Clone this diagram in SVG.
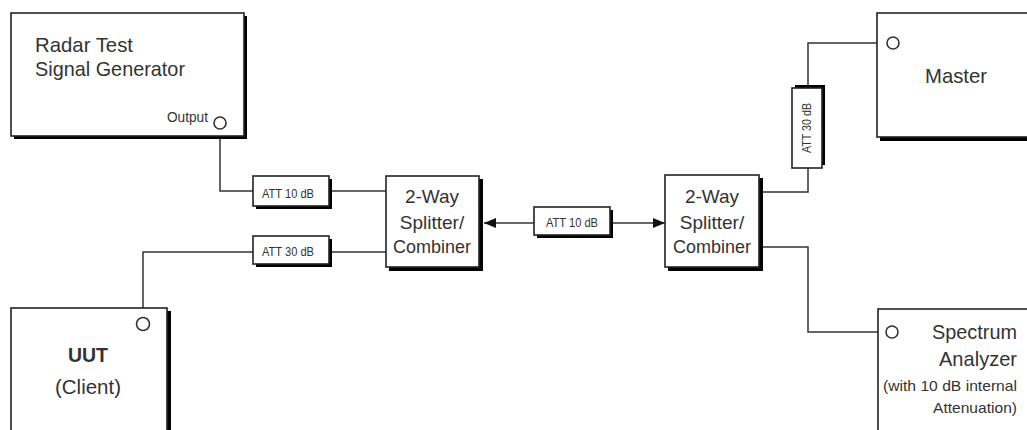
<svg xmlns="http://www.w3.org/2000/svg" width="1027" height="430" viewBox="0 0 1027 430">
<style>
.box{fill:#fff;stroke:#222;stroke-width:1.6}
.sh{fill:#000}
.wire{fill:none;stroke:#333;stroke-width:1.5}
.port{fill:#fff;stroke:#333;stroke-width:1.6}
text{font-family:"Liberation Sans",Arial,sans-serif;fill:#333}
.big{font-size:21px}
.mid{font-size:19px}
.sm{font-size:13px}
.xs{font-size:15px}
</style>
<defs>
<marker id="ah" viewBox="0 0 12 10" refX="12" refY="5" markerWidth="12" markerHeight="10" markerUnits="userSpaceOnUse" orient="auto-start-reverse">
<path d="M0,0 L12,5 L0,10 Z" fill="#111"/>
</marker>
</defs>
<rect width="1027" height="430" fill="#fff"/>
<g id="connectors">
<path class="wire" d="M220,129 V191 H253"/>
<path class="wire" d="M332,191 H386"/>
<path class="wire" d="M253,252 H143 V318"/>
<path class="wire" d="M332,252 H386"/>
<path class="wire" d="M484,223 H534" marker-start="url(#ah)"/>
<path class="wire" d="M613,223 H665" marker-end="url(#ah)"/>
<path class="wire" d="M886,43 H808 V88"/>
<path class="wire" d="M808,168 V192 H762"/>
<path class="wire" d="M762,247 H808 V332 H886"/>
</g>
<g id="radar">
<rect class="sh" x="14" y="16" width="233" height="123"/>
<rect class="box" x="11" y="13" width="233" height="123"/>
<text class="big" x="35" y="52" textLength="98" lengthAdjust="spacingAndGlyphs">Radar Test</text>
<text class="big" x="35" y="76" textLength="150" lengthAdjust="spacingAndGlyphs">Signal Generator</text>
<text class="xs" x="208" y="122" text-anchor="end" textLength="41" lengthAdjust="spacingAndGlyphs">Output</text>
<circle class="port" cx="220" cy="123" r="6"/>
</g>
<g id="att1">
<rect class="sh" x="256" y="179" width="76" height="30"/>
<rect class="box" x="253" y="176" width="76" height="30"/>
<text class="sm" x="262" y="198" textLength="52" lengthAdjust="spacingAndGlyphs">ATT 10 dB</text>
</g>
<g id="att2">
<rect class="sh" x="256" y="239" width="76" height="28"/>
<rect class="box" x="253" y="236" width="76" height="28"/>
<text class="sm" x="262" y="256" textLength="52" lengthAdjust="spacingAndGlyphs">ATT 30 dB</text>
</g>
<g id="splitter1">
<rect class="sh" x="389" y="179" width="94" height="92"/>
<rect class="box" x="386" y="176" width="93" height="91"/>
<g class="mid" text-anchor="middle">
<text x="432" y="203">2-Way</text>
<text x="432" y="229">Splitter/</text>
<text x="432" y="253" textLength="78" lengthAdjust="spacingAndGlyphs">Combiner</text>
</g>
</g>
<g id="att3">
<rect class="sh" x="537" y="210" width="76" height="28"/>
<rect class="box" x="534" y="207" width="76" height="28"/>
<text class="sm" x="572" y="227" text-anchor="middle" textLength="52" lengthAdjust="spacingAndGlyphs">ATT 10 dB</text>
</g>
<g id="splitter2">
<rect class="sh" x="668" y="178" width="95" height="93"/>
<rect class="box" x="665" y="175" width="94" height="92"/>
<g class="mid" text-anchor="middle">
<text x="712" y="203">2-Way</text>
<text x="712" y="229">Splitter/</text>
<text x="712" y="253" textLength="78" lengthAdjust="spacingAndGlyphs">Combiner</text>
</g>
</g>
<g id="att4">
<rect class="sh" x="795" y="85" width="30" height="80"/>
<rect class="box" x="792" y="88" width="30" height="80"/>
<text class="sm" transform="translate(811,128) rotate(-90)" text-anchor="middle" textLength="50" lengthAdjust="spacingAndGlyphs">ATT 30 dB</text>
</g>
<g id="master">
<rect class="sh" x="880" y="16" width="160" height="125"/>
<rect class="box" x="877" y="13" width="160" height="124"/>
<text class="big" x="956" y="83" text-anchor="middle" textLength="62" lengthAdjust="spacingAndGlyphs">Master</text>
<circle class="port" cx="893" cy="43" r="6"/>
</g>
<g id="uut">
<rect class="sh" x="14" y="311" width="157" height="130"/>
<rect class="box" x="11" y="308" width="156" height="130"/>
<text class="big" x="88" y="362" text-anchor="middle" font-weight="bold" textLength="40" lengthAdjust="spacingAndGlyphs">UUT</text>
<text class="big" x="88" y="394" text-anchor="middle" textLength="66" lengthAdjust="spacingAndGlyphs">(Client)</text>
<circle class="port" cx="143" cy="324" r="6.5"/>
</g>
<g id="spectrum">
<rect class="box" x="878" y="309" width="160" height="130"/>
<text class="big" x="1017" y="339" text-anchor="end" textLength="85" lengthAdjust="spacingAndGlyphs">Spectrum</text>
<text class="big" x="1017" y="366" text-anchor="end" textLength="78" lengthAdjust="spacingAndGlyphs">Analyzer</text>
<text class="xs" x="1017" y="391" text-anchor="end" textLength="134" lengthAdjust="spacingAndGlyphs">(with 10 dB internal</text>
<text class="xs" x="1017" y="413" text-anchor="end" textLength="84" lengthAdjust="spacingAndGlyphs">Attenuation)</text>
<circle class="port" cx="892" cy="332" r="6"/>
</g>
</svg>
